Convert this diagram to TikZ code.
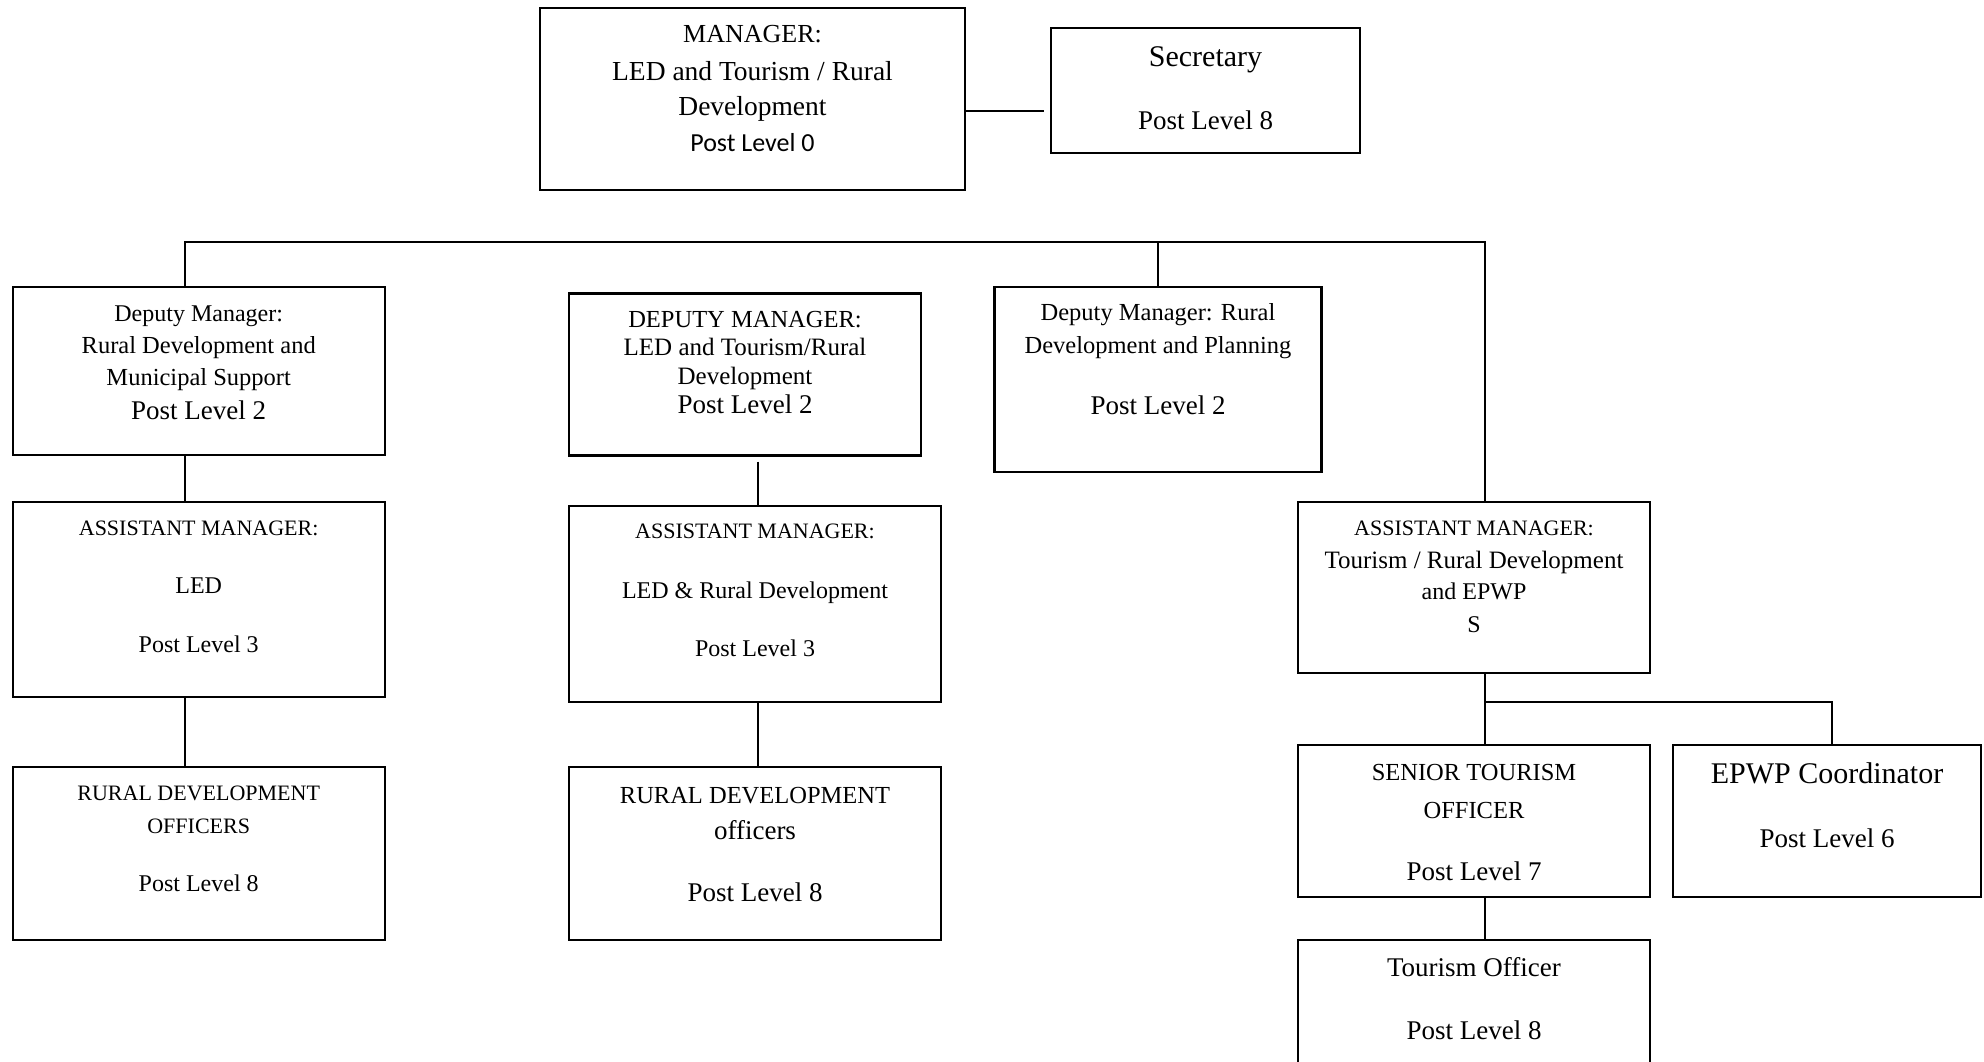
\documentclass[tikz,border=0pt]{standalone}
\usepackage{fontspec}
\setmainfont{Liberation Serif}
\newfontfamily\calib{Carlito}
% one centred text line: name, x, y (line centre), size, text
\newcommand\boxline[5]{%
  \node[inner sep=0pt, anchor=base, font=\fontsize{#4}{#4}\selectfont]
    (#1) at (#2, {#3+0.33*#4}) {#5};}
\begin{document}
\begin{tikzpicture}[x=1pt, y=-1pt,
  post/.style={draw, line width=2.4pt, rectangle, inner sep=0pt},
  conn/.style={line width=1.9pt}]
\useasboundingbox (0,0) rectangle (1984,1062);

% boxes
\node[post, minimum width=425pt, minimum height=182pt] (mgr)  at (752.5,99) {};
\node[post, minimum width=309pt, minimum height=125pt] (sec)  at (1205.5,90.5) {};
\node[post, minimum width=372pt, minimum height=168pt] (dm1)  at (198.7,371) {};
\node[post, minimum width=352pt, minimum height=162pt] (dm2)  at (745,374.5) {};
\node[post, minimum width=327pt, minimum height=185pt] (dm3)  at (1158,379.5) {};
\node[post, minimum width=372pt, minimum height=195pt] (am1)  at (198.7,599.5) {};
\node[post, minimum width=372pt, minimum height=196pt] (am2)  at (755,604) {};
\node[post, minimum width=352pt, minimum height=171pt] (am3)  at (1474,587.5) {};
\node[post, minimum width=372pt, minimum height=173pt] (rdo1) at (198.7,853.5) {};
\node[post, minimum width=372pt, minimum height=173pt] (rdo2) at (755,853.5) {};
\node[post, minimum width=352pt, minimum height=152pt] (sto)  at (1474,821) {};
\node[post, minimum width=308pt, minimum height=152pt] (epwp) at (1827,821) {};
\node[post, minimum width=352pt, minimum height=135pt] (tou)  at (1474,1007.5) {};

% texts
\boxline{mgrA}{752.5}{34}{26}{MANAGER:}
\boxline{mgrB}{752.5}{71}{27.5}{LED and Tourism / Rural}
\boxline{mgrC}{752.5}{106}{27.5}{Development}
\boxline{mgrD}{752.5}{143}{26}{\calib Post Level 0}

\boxline{secA}{1205.5}{57}{30}{Secretary}
\boxline{secB}{1205.5}{121}{27}{Post Level 8}

\boxline{dmoA}{198.7}{314}{24}{Deputy Manager:}
\boxline{dmoB}{198.7}{345}{24.5}{Rural Development and}
\boxline{dmoC}{198.7}{377}{24.5}{Municipal Support}
\boxline{dmoD}{198.7}{411}{27}{Post Level 2}

\boxline{dmtA}{745}{319}{24.5}{DEPUTY MANAGER:}
\boxline{dmtB}{745}{347}{25}{LED and Tourism/Rural}
\boxline{dmtC}{745}{376}{25}{Development}
\boxline{dmtD}{745}{405}{27}{Post Level 2}

\boxline{dmhA}{1158}{312.5}{24.5}{Deputy Manager: Rural}
\boxline{dmhB}{1158}{345}{24.5}{Development and Planning}
\boxline{dmhC}{1158}{406}{27}{Post Level 2}

\boxline{amoA}{198.7}{528}{22}{ASSISTANT MANAGER:}
\boxline{amoB}{198.7}{586}{24}{LED}
\boxline{amoC}{198.7}{645}{24}{Post Level 3}

\boxline{amtA}{755}{531}{22}{ASSISTANT MANAGER:}
\boxline{amtB}{755}{591}{24}{LED \& Rural Development}
\boxline{amtC}{755}{649}{24}{Post Level 3}

\boxline{amhA}{1474}{528}{22}{ASSISTANT MANAGER:}
\boxline{amhB}{1474}{560.5}{25}{Tourism / Rural Development}
\boxline{amhC}{1474}{592}{24}{and EPWP}
\boxline{amhD}{1474}{625}{24}{S}

\boxline{rdoA}{198.7}{793}{22}{RURAL DEVELOPMENT}
\boxline{rdoB}{198.7}{826}{22}{OFFICERS}
\boxline{rdoC}{198.7}{884}{24}{Post Level 8}

\boxline{rdtA}{755}{795}{24.5}{RURAL DEVELOPMENT}
\boxline{rdtB}{755}{831}{27}{officers}
\boxline{rdtC}{755}{893}{27}{Post Level 8}

\boxline{stoA}{1474}{772}{24.5}{SENIOR TOURISM}
\boxline{stoB}{1474}{810}{24.5}{OFFICER}
\boxline{stoC}{1474}{872}{27}{Post Level 7}

\boxline{epA}{1827}{774}{30}{EPWP Coordinator}
\boxline{epB}{1827}{839}{27}{Post Level 6}

\boxline{touA}{1474}{968}{27}{Tourism Officer}
\boxline{touB}{1474}{1031}{27}{Post Level 8}

% connectors
\coordinate (secgap) at (1044,111);
\draw[conn] (mgr.east |- secgap) -- (secgap);

\coordinate (busL) at (185,242);
\coordinate (busR) at (1485,242);
\draw[conn] (dm1.north -| busL) -- (busL) -- (busR) -- (am3.north -| busR);
\draw[conn] (dm3.north) -- (dm3.north |- busL);

\draw[conn] (dm1.south -| busL) -- (am1.north -| busL);
\draw[conn] (am1.south -| busL) -- (rdo1.north -| busL);

\coordinate (colm) at (758,0);
\draw[conn] ([yshift=-5pt]dm2.south -| colm) -- (am2.north -| colm);
\draw[conn] (am2.south -| colm) -- (rdo2.north -| colm);

\coordinate (bustL) at (1485,702);
\coordinate (bustR) at (1832,702);
\draw[conn] (am3.south -| bustL) -- (bustL) -- (bustR) -- (epwp.north -| bustR);
\draw[conn] (bustL) -- (sto.north -| bustL);
\draw[conn] (sto.south -| bustL) -- (tou.north -| bustL);
\end{tikzpicture}
\end{document}
